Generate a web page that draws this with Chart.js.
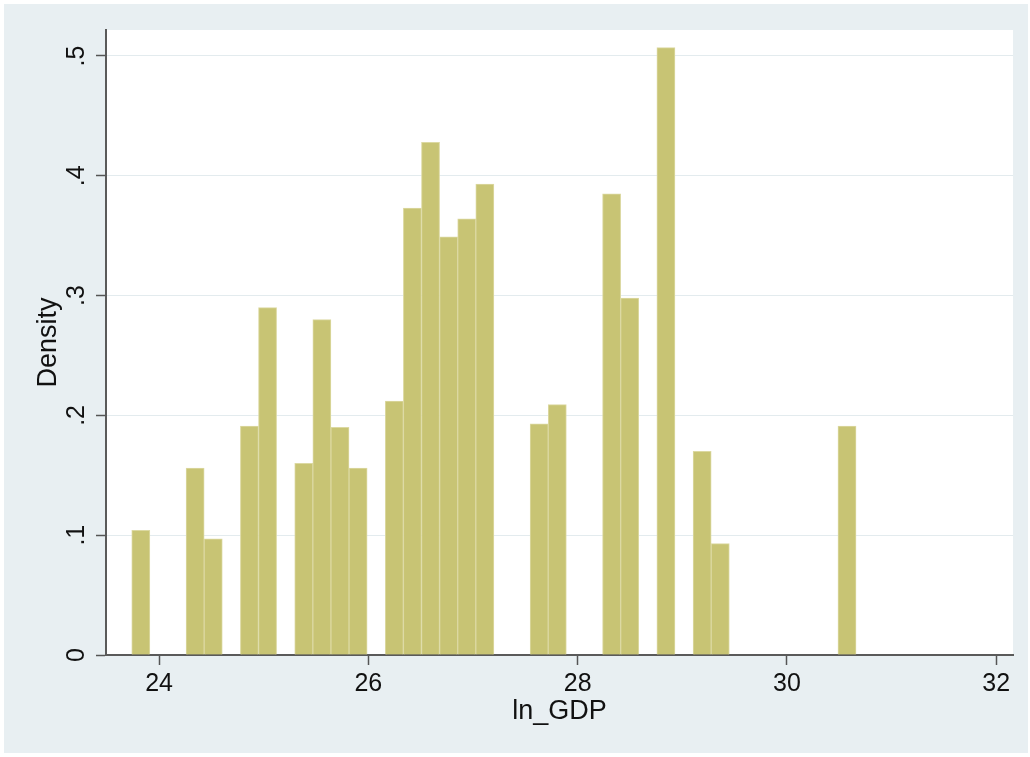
<!DOCTYPE html>
<html>
<head>
<meta charset="utf-8">
<script src="https://cdn.jsdelivr.net/npm/chart.js@4"></script>
<style>
  html, body { margin: 0; padding: 0; background: #ffffff; }
  canvas { display: block; }
</style>
</head>
<body>
<canvas id="histChart" width="1030" height="757"></canvas>
<script>
// histogram of ln_GDP, 40 bins of ~0.173, only the non-empty bins listed
const binMid = [
  23.8255, 24.3446, 24.5177, 24.8637, 25.0368, 25.3828, 25.5559, 25.7289,
  25.9019, 26.2480, 26.4210, 26.5941, 26.7671, 26.9401, 27.1131, 27.6322,
  27.8053, 28.3244, 28.4974, 28.8435, 29.1895, 29.3626, 30.5738
];
const density = [
  0.104, 0.156, 0.097, 0.191, 0.290, 0.160, 0.280, 0.190,
  0.156, 0.212, 0.373, 0.428, 0.349, 0.364, 0.393, 0.193,
  0.209, 0.385, 0.298, 0.507, 0.170, 0.093, 0.191
];
const xTicks = [24, 26, 28, 30, 32];
const yTicks = [0, 0.1, 0.2, 0.3, 0.4, 0.5];

const FONT = "'Liberation Sans', Arial, Helvetica, sans-serif";

// outer graph region (light bluish gray) + white plot region
const background = {
  id: "background",
  beforeDraw(chart) {
    const { ctx, chartArea: a } = chart;
    ctx.save();
    ctx.fillStyle = "#ffffff";
    ctx.fillRect(0, 0, chart.width, chart.height);
    ctx.fillStyle = "#e8eff2";
    ctx.fillRect(4, 4, chart.width - 6, chart.height - 8);
    ctx.fillStyle = "#ffffff";
    ctx.fillRect(a.left, a.top, a.right - a.left, a.bottom - a.top);
    ctx.restore();
  }
};

new Chart(document.getElementById("histChart"), {
  type: "bar",
  data: {
    datasets: [{
      label: "Density",
      data: binMid.map((x, i) => ({ x: x, y: density[i] })),
      backgroundColor: "#c8c474",
      borderColor: "#dcd9a2",
      borderWidth: 1,
      barPercentage: 1,
      categoryPercentage: 1
    }]
  },
  options: {
    responsive: false,
    animation: false,
    devicePixelRatio: 1,
    layout: { padding: { left: 0, top: 30, right: 17, bottom: 0 } },
    plugins: { legend: { display: false }, tooltip: { enabled: false } },
    scales: {
      x: {
        type: "linear",
        offset: false,
        min: 23.493,
        max: 32.16,
        afterFit(s) { s.height = 102; },
        afterBuildTicks(s) { s.ticks = xTicks.map(v => ({ value: v })); },
        ticks: {
          font: { family: FONT, size: 25 },
          color: "#111111",
          padding: 4,
          maxRotation: 0,
          callback: v => String(v)
        },
        grid: {
          offset: false,
          drawOnChartArea: false,
          drawTicks: true,
          tickLength: 10,
          tickColor: "#555555",
          tickWidth: 1.5
        },
        border: { color: "#5a5a5a", width: 2 },
        title: {
          display: true,
          text: "ln_GDP",
          font: { family: FONT, size: 27 },
          color: "#111111",
          padding: { top: 0, bottom: 29 }
        }
      },
      y: {
        type: "linear",
        min: 0,
        max: 0.5217,
        afterFit(s) { s.width = 106; },
        afterBuildTicks(s) { s.ticks = yTicks.map(v => ({ value: v })); },
        ticks: {
          font: { family: FONT, size: 25 },
          color: "#111111",
          padding: 8,
          minRotation: 90,
          maxRotation: 90,
          crossAlign: "center",
          callback: v => v === 0 ? "0" : v.toFixed(1).replace(/^0/, "")
        },
        grid: {
          color: "#e3ebee",
          lineWidth: 1,
          drawTicks: true,
          tickLength: 10,
          tickColor: "#555555",
          tickWidth: 1.5
        },
        border: { color: "#5a5a5a", width: 2 },
        title: {
          display: true,
          text: "Density",
          font: { family: FONT, size: 27 },
          color: "#111111",
          padding: { top: 32, bottom: 0 }
        }
      }
    }
  },
  plugins: [background]
});
</script>
</body>
</html>
